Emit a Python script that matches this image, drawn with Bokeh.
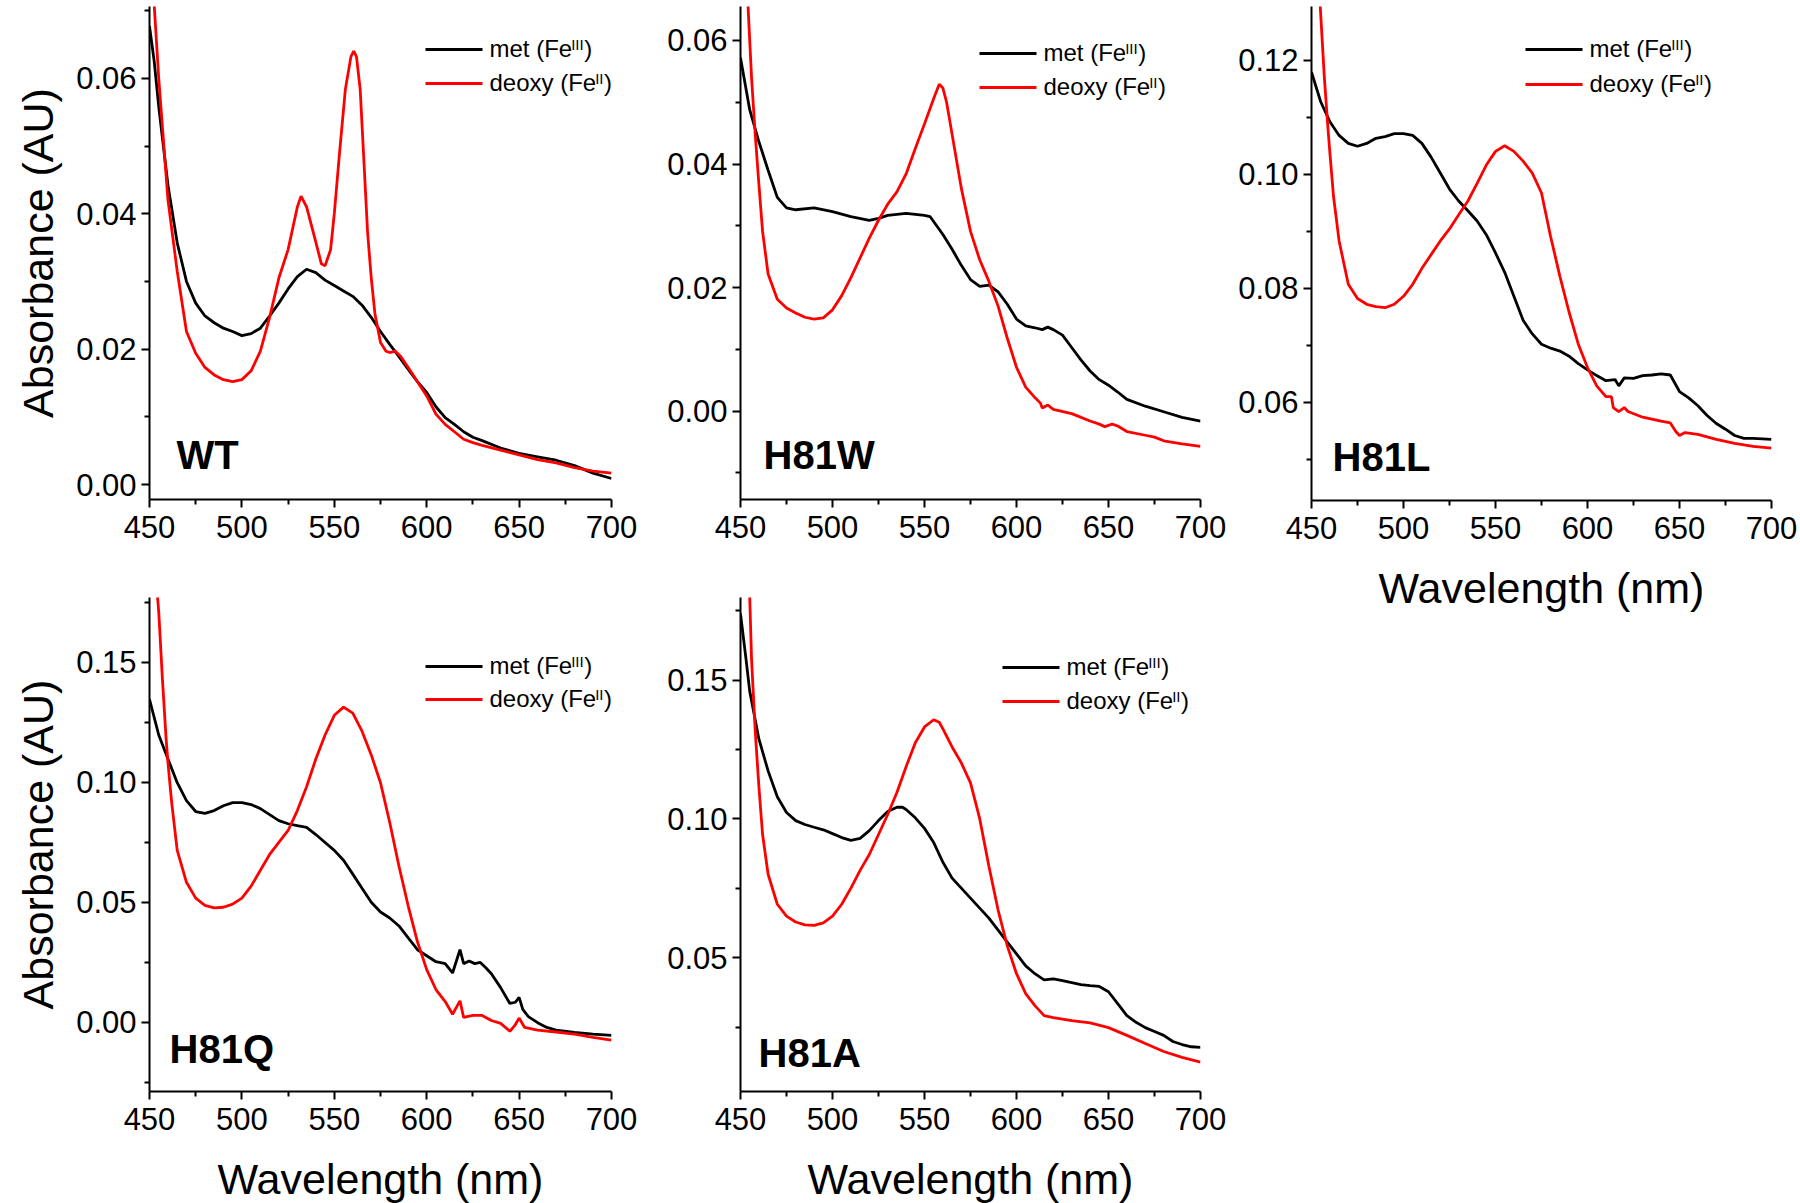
from bokeh.plotting import figure
from bokeh.models import Range1d, FixedTicker, NumeralTickFormatter, Label, Arrow
from bokeh.layouts import row, column
from bokeh.embed import file_html
from bokeh.resources import INLINE

FONT = "Liberation Sans"

# ---------------- data ----------------
WT_MET_NM = [450, 452.5, 455, 460, 465, 470, 475, 480, 485, 490, 495, 500, 505, 510, 515, 520,
             525, 530, 535, 540, 545, 550, 555, 560, 565, 570, 575, 580, 585, 590, 595, 600,
             605, 610, 615, 620, 625, 630, 640, 650, 660, 670, 680, 690, 700]
WT_MET_ABS = [0.0677, 0.0626, 0.0558, 0.0442, 0.0357, 0.0300, 0.0268, 0.0249, 0.0239, 0.0231,
              0.0226, 0.0220, 0.0223, 0.0231, 0.0249, 0.0268, 0.0289, 0.0307, 0.0318, 0.0313,
              0.0302, 0.0294, 0.0286, 0.0278, 0.0265, 0.0247, 0.0226, 0.0207, 0.0189, 0.0170,
              0.0152, 0.0136, 0.0115, 0.0099, 0.0089, 0.0078, 0.0070, 0.0065, 0.0054, 0.0046,
              0.0041, 0.0036, 0.0028, 0.0017, 0.0009]
WT_DEOXY_NM = [450, 452.5, 455, 460, 465, 470, 475, 480, 485, 490, 495, 500, 505, 510, 515, 520,
               525, 530, 532, 535, 540, 543, 545, 548, 550, 553, 556, 559, 560.5, 562, 564, 566,
               568, 570, 572, 575, 578, 580, 583, 586, 590, 595, 600, 605, 610, 615, 620, 625,
               630, 640, 650, 660, 670, 680, 690, 700]
WT_DEOXY_ABS = [0.085, 0.071, 0.060, 0.0420, 0.0315, 0.0226, 0.0194, 0.0173, 0.0162, 0.0155,
                0.0152, 0.0155, 0.0168, 0.0197, 0.0247, 0.0305, 0.0347, 0.0410, 0.0426, 0.0410,
                0.0358, 0.0326, 0.0323, 0.0347, 0.0400, 0.0495, 0.0584, 0.0632, 0.0640, 0.0632,
                0.0584, 0.0479, 0.0373, 0.0305, 0.0252, 0.0210, 0.0197, 0.0195, 0.0197, 0.0189,
                0.0173, 0.0152, 0.0131, 0.0104, 0.0089, 0.0078, 0.0067, 0.0062, 0.0058, 0.0051,
                0.0044, 0.0037, 0.0032, 0.0025, 0.0020, 0.0017]

H81W_MET_NM = [450, 455, 460, 465, 470, 475, 480, 490, 500, 510, 520, 525, 530, 540, 550, 553,
               560, 565, 570, 575, 580, 585, 590, 595, 600, 605, 610, 614, 617, 620, 625, 630,
               635, 640, 645, 650, 655, 660, 670, 680, 690, 700]
H81W_MET_ABS = [0.0572, 0.0488, 0.0436, 0.0390, 0.0346, 0.0329, 0.0326, 0.0329, 0.0323, 0.0315,
                0.0309, 0.0312, 0.0317, 0.0320, 0.0317, 0.0315, 0.0286, 0.0262, 0.0236, 0.0213,
                0.0202, 0.0204, 0.0193, 0.0173, 0.0149, 0.0138, 0.0135, 0.0132, 0.0136, 0.0132,
                0.0123, 0.0103, 0.0083, 0.0065, 0.0051, 0.0042, 0.0031, 0.0019, 0.0008, -0.0001,
                -0.0010, -0.0016]
H81W_DEOXY_NM = [450, 452, 454, 456, 458, 460, 462, 465, 470, 475, 480, 485, 490, 495, 500, 505,
                 510, 515, 520, 525, 530, 535, 540, 545, 550, 555, 558, 560, 562, 565, 570, 575,
                 580, 585, 590, 595, 600, 605, 610, 613, 614, 617, 620, 630, 640, 645, 648, 652,
                 655, 660, 670, 675, 680, 690, 700]
H81W_DEOXY_ABS = [0.085, 0.075, 0.0661, 0.0540, 0.0448, 0.0367, 0.0291, 0.0222, 0.0181, 0.0167,
                  0.0159, 0.0152, 0.0149, 0.0151, 0.0164, 0.0187, 0.0216, 0.0248, 0.0280, 0.0309,
                  0.0335, 0.0355, 0.0384, 0.0425, 0.0465, 0.0506, 0.0529, 0.0523, 0.0500, 0.0448,
                  0.0361, 0.0291, 0.0245, 0.0210, 0.0170, 0.0118, 0.0071, 0.0039, 0.0022, 0.0013,
                  0.0005, 0.0010, 0.0003, -0.0004, -0.0016, -0.0021, -0.0025, -0.0021, -0.0024,
                  -0.0033, -0.0039, -0.0042, -0.0048, -0.0053, -0.0057]

H81L_MET_NM = [450, 455, 460, 465, 470, 475, 480, 485, 490, 495, 500, 505, 510, 515, 520, 525,
               530, 535, 540, 545, 550, 555, 560, 565, 570, 575, 580, 585, 590, 595, 600, 605,
               610, 615, 617, 620, 625, 630, 635, 640, 645, 650, 655, 660, 665, 670, 675, 680,
               685, 690, 700]
H81L_MET_ABS = [0.1179, 0.1127, 0.1092, 0.1068, 0.1054, 0.1049, 0.1054, 0.1063, 0.1066, 0.1071,
                0.1071, 0.1068, 0.1054, 0.1030, 0.1002, 0.0974, 0.0953, 0.0936, 0.0918, 0.0894,
                0.0862, 0.0828, 0.0786, 0.0744, 0.0720, 0.0702, 0.0695, 0.0690, 0.0681, 0.0668,
                0.0657, 0.0647, 0.0638, 0.0640, 0.0629, 0.0643, 0.0642, 0.0647, 0.0648, 0.0650,
                0.0648, 0.0619, 0.0608, 0.0594, 0.0577, 0.0563, 0.0553, 0.0542, 0.0537, 0.0537,
                0.0535]
H81L_DEOXY_NM = [450, 453, 455, 457, 459, 460, 462, 465, 470, 475, 480, 485, 490, 495, 500, 505,
                 510, 515, 520, 525, 530, 535, 540, 545, 550, 555, 560, 565, 570, 575, 580, 585,
                 590, 595, 600, 605, 610, 613, 614, 617, 620, 622, 630, 640, 645, 648, 650, 653,
                 660, 670, 680, 690, 700]
H81L_DEOXY_ABS = [0.160, 0.140, 0.128, 0.1169, 0.1078, 0.1037, 0.0960, 0.0883, 0.0807, 0.0782,
                  0.0772, 0.0768, 0.0766, 0.0772, 0.0786, 0.0807, 0.0835, 0.0859, 0.0883, 0.0904,
                  0.0929, 0.0953, 0.0984, 0.1016, 0.1040, 0.1050, 0.1040, 0.1023, 0.1002, 0.0967,
                  0.0890, 0.0821, 0.0758, 0.0702, 0.0661, 0.0629, 0.0610, 0.0610, 0.0591, 0.0584,
                  0.0591, 0.0584, 0.0574, 0.0567, 0.0564, 0.0549, 0.0542, 0.0547, 0.0544, 0.0535,
                  0.0528, 0.0523, 0.0520]

H81Q_MET_NM = [450, 455, 460, 465, 470, 475, 480, 485, 490, 495, 500, 505, 510, 515, 520, 525,
               530, 535, 540, 545, 550, 555, 560, 565, 570, 575, 580, 585, 590, 595, 600, 605,
               610, 614, 618, 620, 623, 626, 629, 632, 635, 640, 645, 648, 650, 652, 655, 660,
               665, 670, 680, 690, 700]
H81Q_MET_ABS = [0.1346, 0.1197, 0.1097, 0.0998, 0.0923, 0.0878, 0.0870, 0.0882, 0.0902, 0.0915,
                0.0915, 0.0907, 0.0890, 0.0865, 0.0840, 0.0827, 0.0819, 0.0812, 0.0782, 0.0749,
                0.0716, 0.0675, 0.0617, 0.0558, 0.0500, 0.0459, 0.0434, 0.0401, 0.0351, 0.0302,
                0.0277, 0.0252, 0.0244, 0.0205, 0.0302, 0.0244, 0.0255, 0.0244, 0.0249, 0.0227,
                0.0202, 0.0144, 0.0078, 0.0083, 0.0103, 0.0053, 0.0023, -0.0002, -0.0022, -0.0033,
                -0.0043, -0.0050, -0.0055]
H81Q_DEOXY_NM = [450, 453, 455, 457, 459, 460, 462, 465, 470, 475, 480, 485, 490, 495, 500, 505,
                 510, 515, 520, 525, 530, 535, 540, 545, 550, 555, 560, 565, 570, 575, 580, 585,
                 590, 595, 600, 605, 610, 614, 618, 620, 625, 630, 635, 640, 645, 648, 650, 653,
                 660, 670, 680, 690, 700]
H81Q_DEOXY_ABS = [0.230, 0.190, 0.171, 0.1429, 0.1180, 0.1081, 0.0915, 0.0716, 0.0583, 0.0517,
                  0.0487, 0.0476, 0.0479, 0.0492, 0.0517, 0.0567, 0.0633, 0.0699, 0.0749, 0.0799,
                  0.0882, 0.0981, 0.1097, 0.1197, 0.1279, 0.1313, 0.1288, 0.1213, 0.1114, 0.0998,
                  0.0832, 0.0650, 0.0484, 0.0335, 0.0219, 0.0136, 0.0086, 0.0033, 0.0089, 0.0020,
                  0.0028, 0.0028, 0.0007, -0.0005, -0.0038, -0.0010, 0.0017, -0.0022, -0.0033,
                  -0.0041, -0.0050, -0.0063, -0.0075]

H81A_MET_NM = [450, 453, 455, 460, 465, 470, 475, 480, 485, 490, 495, 500, 505, 510, 515, 520,
               525, 530, 535, 538, 540, 545, 550, 555, 560, 565, 570, 575, 580, 585, 590, 595,
               600, 605, 610, 615, 620, 625, 630, 635, 640, 645, 650, 655, 660, 665, 670, 675,
               680, 685, 690, 695, 700]
H81A_MET_ABS = [0.1739, 0.1575, 0.1460, 0.1288, 0.1173, 0.1080, 0.1023, 0.0994, 0.0980, 0.0970,
                0.0961, 0.0947, 0.0933, 0.0923, 0.0930, 0.0958, 0.0994, 0.1027, 0.1042, 0.1042,
                0.1034, 0.1004, 0.0966, 0.0915, 0.0844, 0.0787, 0.0751, 0.0715, 0.0679, 0.0643,
                0.0600, 0.0557, 0.0514, 0.0471, 0.0443, 0.0421, 0.0424, 0.0418, 0.0411, 0.0404,
                0.0400, 0.0397, 0.0378, 0.0335, 0.0292, 0.0268, 0.0249, 0.0235, 0.0221, 0.0199,
                0.0188, 0.0180, 0.0178]
H81A_DEOXY_NM = [450, 453, 455, 456, 458, 460, 462, 465, 470, 475, 480, 485, 490, 495, 500, 505,
                 510, 515, 520, 525, 530, 535, 540, 545, 550, 555, 558, 560, 565, 570, 575, 580,
                 585, 590, 595, 600, 605, 610, 615, 620, 630, 640, 650, 660, 670, 680, 690, 700]
H81A_DEOXY_ABS = [0.250, 0.205, 0.180, 0.1575, 0.1317, 0.1116, 0.0944, 0.0801, 0.0693, 0.0650,
                  0.0629, 0.0619, 0.0617, 0.0626, 0.0650, 0.0693, 0.0751, 0.0815, 0.0872, 0.0944,
                  0.1016, 0.1095, 0.1188, 0.1274, 0.1331, 0.1357, 0.1348, 0.1324, 0.1259, 0.1202,
                  0.1130, 0.1001, 0.0830, 0.0672, 0.0543, 0.0443, 0.0371, 0.0328, 0.0292, 0.0285,
                  0.0274, 0.0266, 0.0249, 0.0221, 0.0192, 0.0163, 0.0142, 0.0125]

X_TICKS = [450, 500, 550, 600, 650, 700]
X_MINOR = [475, 525, 575, 625, 675]

WT_Y_TICKS = [0.00, 0.02, 0.04, 0.06]
WT_Y_MINOR = [0.01, 0.03, 0.05, 0.07]
H81W_Y_TICKS = [0.00, 0.02, 0.04, 0.06]
H81W_Y_MINOR = [-0.01, 0.01, 0.03, 0.05]
H81L_Y_TICKS = [0.06, 0.08, 0.10, 0.12]
H81L_Y_MINOR = [0.05, 0.07, 0.09, 0.11]
H81Q_Y_TICKS = [0.00, 0.05, 0.10, 0.15]
H81Q_Y_MINOR = [-0.025, 0.025, 0.075, 0.125, 0.175]
H81A_Y_TICKS = [0.05, 0.10, 0.15]
H81A_Y_MINOR = [0.025, 0.075, 0.125, 0.175]

PANEL_NAMES = ["WT", "H81W", "H81L", "H81Q", "H81A"]
MET_LABEL = ("met (Fe", "III", ")")
DEOXY_LABEL = ("deoxy (Fe", "II", ")")
Y_TITLE = "Absorbance (AU)"
X_TITLE = "Wavelength (nm)"

# Arial / Liberation Sans advance widths (em)
ADV = {"m": .833, "e": .556, "t": .278, " ": .278, "(": .333, ")": .333, "F": .611,
       "d": .556, "o": .556, "x": .5, "y": .5, "I": .278}

LEG_SIZE = 24
SUP_SIZE = 15
NAME_SIZE = 40
TITLE_SIZE = 43


def tw(s, size):
    return sum(ADV[c] for c in s) * size


def make_panel(met_x, met_y, dx, dy, yr, yt, ym, name, geo, leg, lab, ytitle=None, xtitle=None):
    bl, fw, br, bt, fh, bb = geo
    p = figure(frame_width=fw, frame_height=fh, x_range=Range1d(450, 700),
               y_range=Range1d(*yr), output_backend="svg", toolbar_location=None,
               min_border_left=bl, min_border_right=br, min_border_top=bt,
               min_border_bottom=bb)
    p.background_fill_color = "white"
    p.border_fill_color = "white"
    p.outline_line_color = None
    p.grid.visible = False
    p.xaxis.ticker = FixedTicker(ticks=X_TICKS, minor_ticks=X_MINOR)
    p.yaxis.ticker = FixedTicker(ticks=yt, minor_ticks=ym)
    p.yaxis.formatter = NumeralTickFormatter(format="0.00")
    for ax in (p.xaxis[0], p.yaxis[0]):
        ax.axis_line_width = 2
        ax.axis_line_color = "black"
        ax.major_tick_line_width = 2
        ax.minor_tick_line_width = 2
        ax.major_tick_line_color = "black"
        ax.minor_tick_line_color = "black"
        ax.major_tick_out = 8
        ax.major_tick_in = 0
        ax.minor_tick_out = 5
        ax.minor_tick_in = 0
        ax.major_label_text_font = FONT
        ax.major_label_text_font_size = "31px"
        ax.major_label_text_color = "black"
        ax.axis_label_text_font = FONT
        ax.axis_label_text_font_size = f"{TITLE_SIZE}px"
        ax.axis_label_text_font_style = "normal"
        ax.axis_label_text_color = "black"
    p.yaxis.major_label_standoff = 5
    p.xaxis.major_label_standoff = 8
    p.yaxis.axis_label_standoff = 11
    p.xaxis.axis_label_standoff = 22
    if ytitle:
        p.yaxis.axis_label = ytitle
    if xtitle:
        p.xaxis.axis_label = xtitle

    p.line(met_x, met_y, line_color="black", line_width=2.8)
    p.line(dx, dy, line_color="#ff0000", line_width=2.8)

    # legend drawn by hand (superscript Roman numerals)
    x0, ym_, yd_ = leg
    for yy, color, parts in ((ym_, "black", MET_LABEL), (yd_, "#ff0000", DEOXY_LABEL)):
        ys = fh - yy
        p.add_layout(Arrow(start=None, end=None, x_start=x0, y_start=ys, x_end=x0 + 57,
                           y_end=ys, start_units="screen", end_units="screen",
                           line_color=color, line_width=3))
        tx = x0 + 64
        p.add_layout(Label(x=tx, y=ys + 0.6, x_units="screen", y_units="screen", text=parts[0],
                           text_font=FONT, text_font_size=f"{LEG_SIZE}px", text_color="black",
                           text_baseline="middle"))
        tx += tw(parts[0], LEG_SIZE) - 1
        p.add_layout(Label(x=tx, y=ys + 5.5, x_units="screen", y_units="screen", text=parts[1],
                           text_font=FONT, text_font_size=f"{SUP_SIZE}px", text_color="black",
                           text_baseline="middle"))
        tx += tw(parts[1], SUP_SIZE) + 0.5
        p.add_layout(Label(x=tx, y=ys + 0.6, x_units="screen", y_units="screen", text=parts[2],
                           text_font=FONT, text_font_size=f"{LEG_SIZE}px", text_color="black",
                           text_baseline="middle"))

    lx, ly = lab
    p.add_layout(Label(x=lx, y=ly + 0.3465 * NAME_SIZE, x_units="screen", y_units="screen",
                       text=name, text_font=FONT, text_font_size=f"{NAME_SIZE}px",
                       text_font_style="bold", text_color="black", text_baseline="middle"))
    return p


p1 = make_panel(WT_MET_NM, WT_MET_ABS, WT_DEOXY_NM, WT_DEOXY_ABS, (-0.0022, 0.0706),
                WT_Y_TICKS, WT_Y_MINOR, PANEL_NAMES[0], (149, 462, 30, 6, 493, 60),
                (276, 43, 77), (27, 31), ytitle=Y_TITLE)
p2 = make_panel(H81W_MET_NM, H81W_MET_ABS, H81W_DEOXY_NM, H81W_DEOXY_ABS, (-0.0143, 0.0655),
                H81W_Y_TICKS, H81W_Y_MINOR, PANEL_NAMES[1], (99, 460, 30, 6, 493, 60),
                (239, 47, 81), (23, 31))
p3 = make_panel(H81L_MET_NM, H81L_MET_ABS, H81L_DEOXY_NM, H81L_DEOXY_ABS, (0.0428, 0.1294),
                H81L_Y_TICKS, H81L_Y_MINOR, PANEL_NAMES[2], (81, 460, 28, 6, 494, 112),
                (214, 43, 78), (21, 30), xtitle=X_TITLE)
p4 = make_panel(H81Q_MET_NM, H81Q_MET_ABS, H81Q_DEOXY_NM, H81Q_DEOXY_ABS, (-0.0289, 0.1770),
                H81Q_Y_TICKS, H81Q_Y_MINOR, PANEL_NAMES[3], (149, 462, 30, 38, 494, 111),
                (276, 69, 102), (20, 29), ytitle=Y_TITLE, xtitle=X_TITLE)
p5 = make_panel(H81A_MET_NM, H81A_MET_ABS, H81A_DEOXY_NM, H81A_DEOXY_ABS, (0.0019, 0.1797),
                H81A_Y_TICKS, H81A_Y_MINOR, PANEL_NAMES[4], (99, 460, 30, 38, 494, 111),
                (262, 70, 104), (18, 25), xtitle=X_TITLE)

layout = row(column(row(p1, p2), row(p4, p5)), p3)

open("out.html", "w").write(file_html(layout, INLINE))
